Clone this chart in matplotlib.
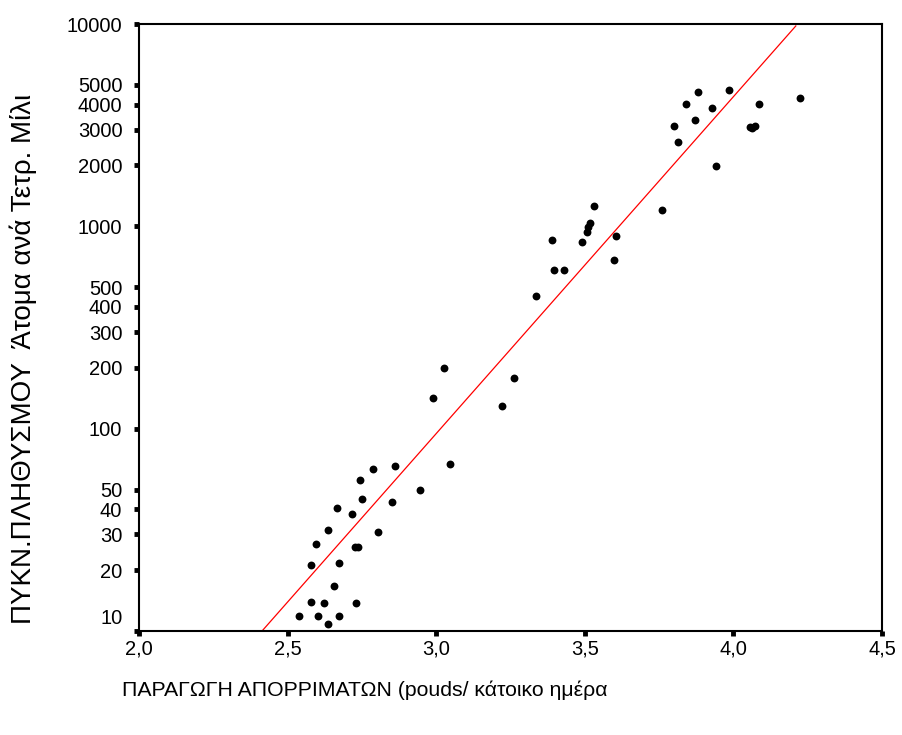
import numpy as np
import matplotlib
matplotlib.use("Agg")
from matplotlib import pyplot as plt
from matplotlib.ticker import FixedLocator, FuncFormatter, NullLocator
from matplotlib.transforms import ScaledTranslation

plt.rcParams['font.family'] = ['Liberation Sans', 'DejaVu Sans']

# waste production (pounds / resident / day) vs population density
waste = [3.026, 3.262, 2.990, 3.222, 2.862, 2.788, 3.045, 2.743, 2.945, 2.749,
         2.850, 2.667, 2.716, 2.635, 2.803, 2.595, 2.727, 2.737, 2.579, 2.674,
         2.655, 2.579, 2.621, 2.729, 2.539, 2.601, 2.674, 2.635,
         4.225, 3.985, 3.882, 3.842, 4.085, 3.929, 3.870, 3.801, 4.056, 4.073,
         4.063, 3.815, 3.942, 3.531, 3.759, 3.518, 3.512, 3.506, 3.605, 3.389,
         3.491, 3.598, 3.396, 3.431, 3.336]
density = [199, 177, 141, 129, 65.2, 63, 66.6, 55.5, 49.5, 45,
           43.2, 40.6, 37.7, 31.4, 30.7, 26.8, 26.1, 26.1, 21.2, 21.8,
           16.6, 13.9, 13.8, 13.8, 11.8, 11.8, 11.8, 10.8,
           4323, 4721, 4613, 4036, 4036, 3843, 3352, 3142, 3105, 3142,
           3062, 2612, 1986, 1264, 1204, 1035, 995, 940, 895, 855,
           836, 681, 608, 608, 452]

# fitted line log10(y) = a + b*x
fit_x = [2.414, 4.21]
fit_a = 1.0 - 1.665 * 2.414
fit_b = 1.665

y_ticks = [10, 20, 30, 40, 50, 100, 200, 300, 400, 500,
           1000, 2000, 3000, 4000, 5000, 10000]
x_ticks = [2.0, 2.5, 3.0, 3.5, 4.0, 4.5]

fig = plt.figure(figsize=(9.02, 7.35), dpi=100)
ax = fig.add_axes([139 / 902, 1 - 631 / 735, 743 / 902, 607 / 735])

ax.scatter(waste, density, s=32, color='black', marker='o', linewidths=0, zorder=3)
fx = np.array(fit_x)
ax.plot(fx, 10 ** (fit_a + fit_b * fx), color='red', lw=0.9, zorder=2)

ax.set_yscale('log')
ax.set_xlim(2.0, 4.5)
ax.set_ylim(10, 10000)
ax.yaxis.set_major_locator(FixedLocator(y_ticks))
ax.yaxis.set_minor_locator(NullLocator())
ax.yaxis.set_major_formatter(FuncFormatter(lambda v, p: f"{int(round(v))}"))
ax.xaxis.set_major_locator(FixedLocator(x_ticks))
ax.xaxis.set_major_formatter(FuncFormatter(lambda v, p: f"{v:.1f}".replace('.', ',')))

for s in ax.spines.values():
    s.set_linewidth(1.5)
ax.tick_params(axis='both', direction='out', length=3.5, width=3.5, labelsize=14.5)
ax.tick_params(axis='y', pad=8.5)
ax.tick_params(axis='x', pad=2.5)

# the "10" label sits a bit above its tick in the original
lbl10 = ax.get_yticklabels()[0]
lbl10.set_transform(lbl10.get_transform() + ScaledTranslation(0, 14 / 100, fig.dpi_scale_trans))

ax.set_xlabel("ΠΑΡΑΓΩΓΗ ΑΠΟΡΡΙΜΑΤΩΝ (pouds/ κάτοικο ημέρα", fontsize=15.3)
ax.xaxis.set_label_coords(0.304, -0.097)
ax.xaxis.label.set_va('center')
ax.set_ylabel("ΠΥΚΝ.ΠΛΗΘΥΣΜΟΥ  Άτομα ανά Τετρ. Μίλι", fontsize=20)
ax.yaxis.set_label_coords(-0.156, 0.448)
ax.yaxis.label.set_va('center')

fig.savefig("out.png", dpi=100)
